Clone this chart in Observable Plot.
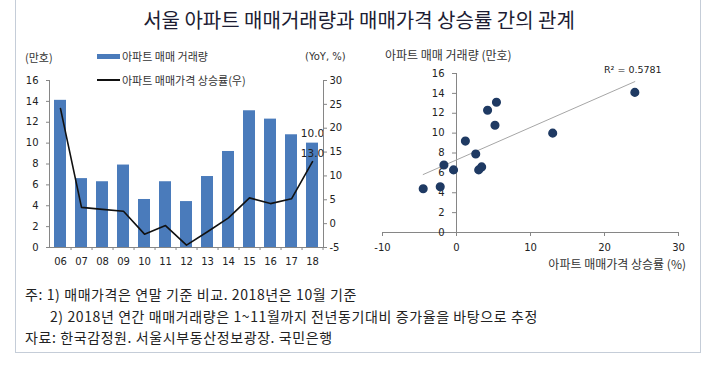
<!DOCTYPE html>
<html><head><meta charset="utf-8">
<script src="https://cdn.jsdelivr.net/npm/d3@7"></script>
<script src="https://cdn.jsdelivr.net/npm/@observablehq/plot@0.6"></script>
<style>
body{margin:0;background:#fff;width:720px;height:371px;position:relative;overflow:hidden;font-family:"Noto Sans CJK KR","Noto Sans",sans-serif;}
.abs{position:absolute;white-space:nowrap;line-height:1;}
.plot{position:absolute;top:40px;}
</style></head><body>
<div style="position:absolute;left:15px;top:-2px;width:686px;height:355px;border:1px solid #c5cdd8;box-sizing:border-box;"></div>
<div class="abs" id="title" style="left:0;width:718px;text-align:center;top:10px;font-size:20px;color:#1d1d33;"></div>
<div id="left" class="plot" style="left:0;width:360px;height:240px;"></div>
<div id="right" class="plot" style="left:360px;width:360px;height:240px;"></div>
<div id="texts"></div>
<script>
// ---- data ----
const years = ["06","07","08","09","10","11","12","13","14","15","16","17","18"];
const volume = [14.1,6.6,6.3,7.9,4.6,6.3,4.4,6.8,9.2,13.1,12.3,10.8,10.0];        // 만호
const priceChange = [24.1,3.4,3.0,2.6,-2.2,-0.4,-4.5,-1.7,1.2,5.4,4.2,5.2,13.0];   // YoY %
const volTicks = [0,2,4,6,8,10,12,14,16];
const rateTicks = [-5,0,5,10,15,20,25,30];
const scatterXTicks = [-10,0,10,20,30];
const titleText = "서울 아파트 매매거래량과 매매가격 상승률 간의 관계";
const legendBar = "아파트 매매 거래량";
const legendLine = "아파트 매매가격 상승률(우)";
const leftUnit = "(만호)";
const rightUnit = "(YoY, %)";
const scatterYTitle = "아파트 매매 거래량 (만호)";
const scatterXTitle = "아파트 매매가격 상승률 (%)";
const r2Label = "R² = 0.5781";
const notes = [
  "주: 1) 매매가격은 연말 기준 비교. 2018년은 10월 기준",
  "2) 2018년 연간 매매거래량은 1~11월까지 전년동기대비 증가율을 바탕으로 추정",
  "자료: 한국감정원. 서울시부동산정보광장. 국민은행"
];

const data = years.map((y,i)=>({year:y, vol:volume[i], rate:priceChange[i]}));
const last = [data[data.length-1]];

const barColor = "#4a7bbb";
const axisColor = "#868686";
const fmt = d => String(d);
const tickStyle = {fontFamily:"DejaVu Sans", fontSize:"10px", color:"#222", background:"transparent", overflow:"visible"};

const W = 360, H = 240;
const dims = {width:W, height:H, marginLeft:49, marginRight:37, marginTop:40, marginBottom:33};
const xScale = {type:"band", domain:years, paddingInner:0.42, paddingOuter:0.21};
const step = (W - dims.marginLeft - dims.marginRight) / years.length;

const bars = Plot.plot({
  ...dims, style: tickStyle,
  x: xScale,
  y: {domain:[0,16]},
  marks: [
    Plot.barY(data, {x:"year", y:"vol", fill:barColor}),
    Plot.ruleY([0], {stroke:axisColor}),
    Plot.frame({anchor:"left", stroke:axisColor}),
    Plot.axisY({ticks:volTicks, tickFormat:fmt, tickSize:3, tickPadding:8, label:null, stroke:axisColor}),
    Plot.axisX({tickSize:0, tickPadding:10, label:null}),
    Plot.axisX({tickSize:3, text:null, label:null, dx:step/2, stroke:axisColor}),
    Plot.text(last, {x:"year", y:"vol", text:d=>d.vol.toFixed(1), dy:-10, fontSize:10.5})
  ]
});
bars.style.position="absolute"; bars.style.left="0"; bars.style.top="0";
document.getElementById("left").appendChild(bars);

const line = Plot.plot({
  ...dims, style: tickStyle,
  x: xScale,
  y: {domain:[-5,30]},
  marks: [
    Plot.frame({anchor:"right", stroke:axisColor}),
    Plot.axisY({anchor:"right", ticks:rateTicks, tickFormat:fmt, tickSize:3, tickPadding:3, label:null, stroke:axisColor}),
    Plot.axisX({ticks:[], label:null}),
    Plot.line(data, {x:"year", y:"rate", stroke:"#111", strokeWidth:1.6}),
    Plot.text(last, {x:"year", y:"rate", text:d=>d.rate.toFixed(1), dy:-8, fontSize:10.5})
  ]
});
line.style.position="absolute"; line.style.left="0"; line.style.top="0";
document.getElementById("left").appendChild(line);

const sd = {width:W, height:H, marginLeft:22, marginRight:42, marginTop:33, marginBottom:48};
const xDom = [-10,30];
const yAxisDx = (0 - xDom[0]) / (xDom[1]-xDom[0]) * (W - sd.marginLeft - sd.marginRight);
const scatter = Plot.plot({
  ...sd, style: tickStyle,
  x: {domain:xDom},
  y: {domain:[0,16]},
  marks: [
    Plot.ruleY([0], {stroke:axisColor}),
    Plot.ruleX([0], {stroke:axisColor}),
    Plot.axisX({ticks:scatterXTicks, tickFormat:fmt, tickSize:4, tickPadding:7, label:null, stroke:axisColor}),
    Plot.axisY({ticks:volTicks, tickFormat:fmt, tickSize:4, tickPadding:8, label:null, dx:yAxisDx, stroke:axisColor}),
    Plot.linearRegressionY(data, {x:"rate", y:"vol", stroke:"#a6a6a6", strokeWidth:1, ci:0}),
    Plot.dot(data, {x:"rate", y:"vol", r:3.8, fill:"#1f3a63", stroke:"#1f3a63"})
  ]
});
scatter.style.position="absolute"; scatter.style.left="0"; scatter.style.top="0";
document.getElementById("right").appendChild(scatter);

// ---- texts ----
document.getElementById("title").textContent = titleText;
const T = document.getElementById("texts");
function addText(txt, left, cy, size, opts={}) {
  const d = document.createElement("div");
  d.className = "abs";
  d.textContent = txt;
  d.style.fontSize = size + "px";
  d.style.top = (cy - size/2) + "px";
  d.style.color = opts.color || "#333";
  if (opts.font) d.style.fontFamily = opts.font;
  if (opts.ls) d.style.letterSpacing = opts.ls + "px";
  if (opts.right) { d.style.right = (720-left) + "px"; } else { d.style.left = left + "px"; }
  T.appendChild(d);
  return d;
}
function addBox(left, top, w, h, color) {
  const d = document.createElement("div");
  d.style.cssText = `position:absolute;left:${left}px;top:${top}px;width:${w}px;height:${h}px;background:${color}`;
  T.appendChild(d);
}
addText(leftUnit, 25, 57, 11);
addText(rightUnit, 305, 57, 10, {font:"DejaVu Sans"});
addBox(97, 54, 23, 5, barColor);
addText(legendBar, 122, 56.5, 11);
addBox(97, 79, 23, 1.6, "#111");
addText(legendLine, 122, 80, 11);
addText(scatterYTitle, 385, 55, 12);
addText(r2Label, 604, 70, 9.5, {font:"DejaVu Sans", color:"#222"});
addText(scatterXTitle, 686, 264, 12, {right:true});
addText(notes[0], 25, 294, 14, {color:"#222", ls:0.6});
addText(notes[1], 50, 316, 14, {color:"#222", ls:0.6});
addText(notes[2], 25, 337, 14, {color:"#222", ls:0.6});
</script>
</body></html>
